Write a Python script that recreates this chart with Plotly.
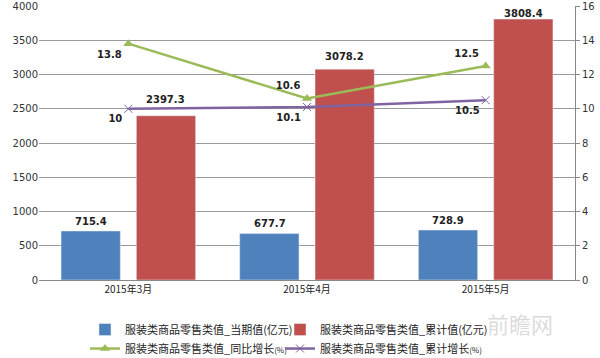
import plotly.graph_objects as go

categories = ["2015年3月", "2015年4月", "2015年5月"]
current_value = [715.4, 677.7, 728.9]
cumulative_value = [2397.3, 3078.2, 3808.4]
yoy_growth = [13.8, 10.6, 12.5]
cum_growth = [10, 10.1, 10.5]

names = [
    "服装类商品零售类值_当期值(亿元)",
    "服装类商品零售类值_累计值(亿元)",
    "服装类商品零售类值_同比增长<span style='font-size:8px'>(%)</span>",
    "服装类商品零售类值_累计增长<span style='font-size:8px'>(%)</span>",
]

lbl_font = dict(family="DejaVu Sans", size=10, color="#222")

fig = go.Figure()
fig.add_trace(go.Bar(
    x=categories, y=current_value, name=names[0], marker_color="#4F81BD", legend="legend",
))
fig.add_trace(go.Bar(
    x=categories, y=cumulative_value, name=names[1], marker_color="#C0504D", legend="legend2",
))
fig.add_trace(go.Scatter(
    x=categories, y=yoy_growth, name=names[2], yaxis="y2", mode="lines+markers+text",
    line=dict(color="#9BBB59", width=2.5),
    marker=dict(symbol="triangle-up", size=9, color="#9BBB59"),
    text=[f"<b>{v}</b>" for v in yoy_growth],
    textposition=["bottom left", "top left", "top left"],
    textfont=lbl_font, cliponaxis=False, legend="legend",
))
fig.add_trace(go.Scatter(
    x=categories, y=cum_growth, name=names[3], yaxis="y2", mode="lines+markers+text",
    line=dict(color="#8064A2", width=2.5),
    marker=dict(symbol="x-thin", size=8, line=dict(color="#8064A2", width=1)),
    text=[f"<b>{v}</b>" for v in cum_growth],
    textposition=["bottom left", "bottom left", "bottom left"],
    textfont=lbl_font, cliponaxis=False, legend="legend2",
))

# bar value labels (placed at each bar's value; per-bar offsets mimic the original label layout)
blue_lift = [10, 10, 10]
red_lift = [16, 13, 6]
annotations = []
for cat, v, lift in zip(categories, current_value, blue_lift):
    annotations.append(dict(x=cat, y=v, xref="x", yref="y", text=f"<b>{v}</b>", showarrow=False,
                            xshift=-37.5, yshift=lift, yanchor="middle", font=lbl_font))
for cat, v, lift in zip(categories, cumulative_value, red_lift):
    annotations.append(dict(x=cat, y=v, xref="x", yref="y", text=f"<b>{v}</b>", showarrow=False,
                            xshift=37.5, yshift=lift, yanchor="middle", font=lbl_font))
annotations.append(dict(text="前瞻网", xref="paper", yref="paper", x=0.963, y=-0.157, xanchor="right",
                        yanchor="middle", showarrow=False,
                        font=dict(family="Noto Sans CJK SC", size=22, color="rgba(150,150,150,0.35)")))

legend_common = dict(
    orientation="v", xanchor="left", xref="container",
    y=0.12, yanchor="top", yref="container",
    font=dict(family="Noto Sans CJK SC", size=11, color="#222"),
    traceorder="normal", itemwidth=30, tracegroupgap=0, bgcolor="rgba(0,0,0,0)",
)

fig.update_layout(
    width=600, height=358,
    margin=dict(l=39, r=25, t=6, b=78, autoexpand=False),
    paper_bgcolor="white", plot_bgcolor="white",
    barmode="group", bargap=0.157, bargroupgap=0.213,
    showlegend=True,
    legend=dict(x=85 / 600, **legend_common),
    legend2=dict(x=280 / 600, **legend_common),
    xaxis=dict(
        tickfont=dict(family="Noto Sans CJK SC", size=10, color="#222"),
        showline=True, linecolor="#888", linewidth=1, ticks="",
        showgrid=False,
    ),
    yaxis=dict(
        range=[0, 4000], dtick=500, showgrid=True, gridcolor="#999", gridwidth=1,
        tickfont=dict(family="DejaVu Sans", size=10, color="#333"),
        zeroline=False, showline=False, ticks="",
    ),
    yaxis2=dict(
        range=[0, 16], dtick=2, overlaying="y", side="right", showgrid=False,
        tickfont=dict(family="DejaVu Sans", size=10, color="#333"),
        showline=True, linecolor="#888", ticks="outside", ticklen=4, tickcolor="#888",
        zeroline=False,
    ),
    annotations=annotations,
)

fig.write_html("out.html")
